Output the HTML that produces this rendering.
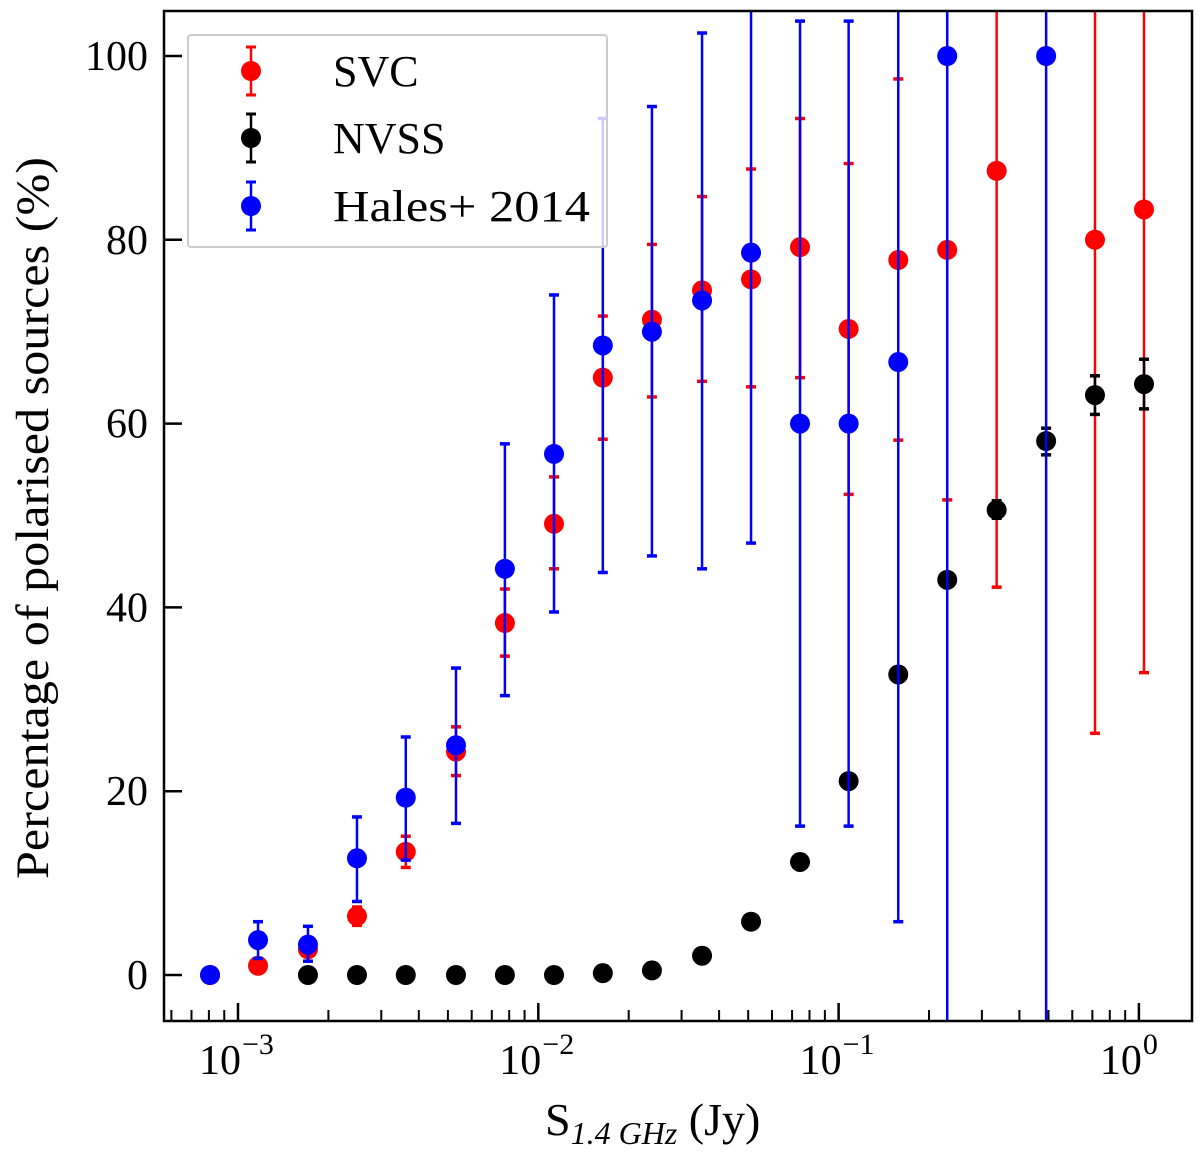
<!DOCTYPE html>
<html><head><meta charset="utf-8"><style>
body{margin:0;background:#fff}
svg{font-family:"Liberation Serif",serif}
</style></head><body>
<svg id="chart" width="1200" height="1150" viewBox="0 0 1200 1150" xmlns="http://www.w3.org/2000/svg">
<defs><clipPath id="clip"><rect x="164" y="11" width="1028" height="1010"/></clipPath></defs>
<g id="marks" clip-path="url(#clip)"></g>
<rect x="164" y="11" width="1028" height="1010" fill="none" stroke="#000" stroke-width="2.5"/>
<g id="axes"></g>
<text transform="translate(48,518) rotate(-90)" text-anchor="middle" font-size="47" textLength="722" lengthAdjust="spacingAndGlyphs">Percentage of polarised sources (%)</text>
<text x="545" y="1135" font-size="46">S<tspan font-size="32" dy="9" font-style="italic">1.4 GHz</tspan><tspan dy="-9"> (Jy)</tspan></text>
<g>
<rect x="188" y="35" width="419" height="212" fill="#fff" fill-opacity="0.8" stroke="#ccc" stroke-width="2" rx="3"/>
<g><line x1="251" y1="47" x2="251" y2="95" stroke="red" stroke-width="2.5"/><line x1="246" y1="47" x2="256" y2="47" stroke="red" stroke-width="3"/><line x1="246" y1="95" x2="256" y2="95" stroke="red" stroke-width="3"/><circle cx="251" cy="71" r="10" fill="red"/><text x="333" y="86" font-size="44">SVC</text></g>
<g><line x1="251" y1="114" x2="251" y2="162" stroke="#000" stroke-width="2.5"/><line x1="246" y1="114" x2="256" y2="114" stroke="#000" stroke-width="3"/><line x1="246" y1="162" x2="256" y2="162" stroke="#000" stroke-width="3"/><circle cx="251" cy="138" r="10" fill="#000"/><text x="333" y="153" font-size="44">NVSS</text></g>
<g><line x1="251" y1="182" x2="251" y2="230" stroke="blue" stroke-width="2.5"/><line x1="246" y1="182" x2="256" y2="182" stroke="blue" stroke-width="3"/><line x1="246" y1="230" x2="256" y2="230" stroke="blue" stroke-width="3"/><circle cx="251" cy="206" r="10" fill="blue"/><text x="333" y="221" font-size="44" textLength="257" lengthAdjust="spacingAndGlyphs">Hales+ 2014</text></g>
</g>
</svg>
<script>
const fluxBins = [0.000807,0.001166,0.00171,0.00249,0.00362,0.00532,0.00774,0.01128,0.0164,0.0239,0.0351,0.0511,0.0744,0.108,0.158,0.230,0.336,0.491,0.714,1.04];
const svcVal = [0,1.0,2.8,6.4,13.4,24.3,38.3,49.1,65,71.3,74.5,75.7,79.2,70.3,77.8,78.9,87.5,null,80,83.3];
const svcLo  = [0,0.5,2.2,5.4,11.7,21.7,34.7,44.2,58.3,62.9,64.6,64,65,52.3,58.2,51.7,42.2,null,26.3,32.9];
const svcHi  = [0,1.5,3.4,7.4,15.1,27,42,54.2,71.7,79.5,84.7,87.7,93.2,88.3,97.5,130,130,null,130,130];
const nvssVal = [null,null,0,0,0,0,0,0,0.2,0.5,2.1,5.8,12.3,21.1,32.7,43,50.6,58.1,63.1,64.3];
const nvssLo  = [null,null,0,0,0,0,0,0,0.2,0.5,2.1,5.8,12.3,21.1,32.7,43,49.7,56.6,61,61.6];
const nvssHi  = [null,null,0,0,0,0,0,0,0.2,0.5,2.1,5.8,12.3,21.1,32.7,43,51.6,59.5,65.2,67];
const halesVal = [0,3.8,3.3,12.7,19.3,25,44.2,56.7,68.5,70,73.4,78.6,60,60,66.7,100,null,100,null,null];
const halesLo  = [0,1.8,1.5,8,12.5,16.5,30.4,39.5,43.8,45.6,44.2,47,16.2,16.2,5.8,-20,null,-20,null,null];
const halesHi  = [0,5.8,5.3,17.2,25.9,33.4,57.8,74,93.2,94.5,102.5,130,103.8,103.8,130,130,null,130,null,null];
const yTicks = [0,20,40,60,80,100];
const xTicks = [-3,-2,-1,0];

const NS="http://www.w3.org/2000/svg";
const X0=238, PD=300.3;
function xs(v){return X0+(Math.log10(v)+3)*PD;}
function ys(v){return 975-v*9.19;}
function mk(tag,attrs,parent){const e=document.createElementNS(NS,tag);for(const k in attrs)e.setAttribute(k,attrs[k]);parent.appendChild(e);return e;}
const marks=document.getElementById('marks'), axes=document.getElementById('axes');

function series(vals,lo,hi,color,name){
  const g=mk('g',{},marks);
  
  
  for(let i=0;i<fluxBins.length;i++){
    if(vals[i]===null)continue;
    const x=xs(fluxBins[i]);
    if(hi[i]-lo[i]>0.01){
      const l=mk('line',{x1:x,x2:x,y1:ys(lo[i]),y2:ys(hi[i]),stroke:color,'stroke-width':2.5},g);
      
      
      [lo[i],hi[i]].forEach(v=>{if(v>-5&&v<105){const c=mk('line',{x1:x-5,x2:x+5,y1:ys(v),y2:ys(v),stroke:color,'stroke-width':3.5},g);
        
        }});
    }
  }
  for(let i=0;i<fluxBins.length;i++){
    if(vals[i]===null)continue;
    const c=mk('circle',{cx:xs(fluxBins[i]),cy:ys(vals[i]),r:10,fill:color},g);
    
    
  }
}
series(svcVal,svcLo,svcHi,'red','svc');
series(nvssVal,nvssLo,nvssHi,'#000','nvss');
series(halesVal,halesLo,halesHi,'blue','hales');

yTicks.forEach(v=>{
  const t=mk('line',{x1:164,x2:182,y1:ys(v),y2:ys(v),stroke:'#000','stroke-width':2.5},axes);
  
  
  const tx=mk('text',{x:148,y:ys(v)+14,'text-anchor':'end','font-size':42},axes);
  tx.textContent=v;
  
  
});
for(let d=-4;d<=0;d++){
  for(let m=1;m<10;m++){
    const v=m*Math.pow(10,d); const x=xs(v);
    if(x<165||x>1191)continue;
    const len=m===1?18:11;
    const t=mk('line',{x1:x,x2:x,y1:1021,y2:1021-len,stroke:'#000','stroke-width':m===1?2.5:2},axes);
    
    
  }
}
xTicks.forEach(p=>{
  const x=xs(Math.pow(10,p));
  const tx=mk('text',{x:x-18,y:1074,'text-anchor':'middle','font-size':42},axes);
  tx.textContent='10';
  
  
  const sp=mk('text',{x:x+4,y:1054,'text-anchor':'start','font-size':30},axes);
  sp.textContent=p===0?'0':'\u2212'+(-p);
  
  
});
</script>
</body></html>
